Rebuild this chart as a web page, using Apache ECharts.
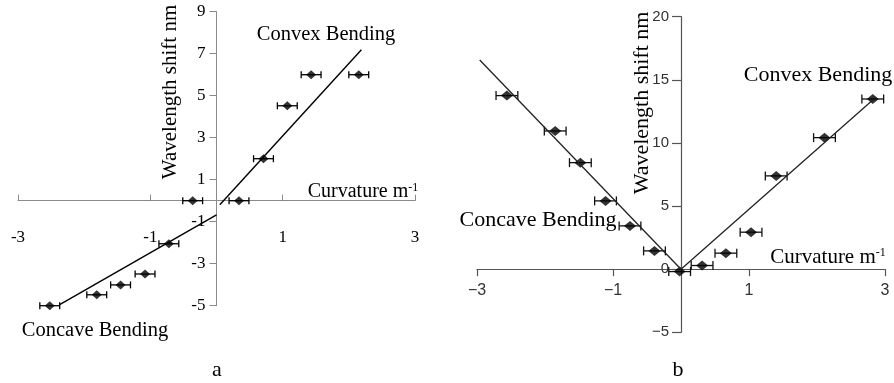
<!DOCTYPE html>
<html>
<head>
<meta charset="utf-8">
<script src="https://cdn.jsdelivr.net/npm/echarts@6/dist/echarts.min.js"></script>
<style>
html,body{margin:0;padding:0;background:#fff;}
#c{width:894px;height:383px;}
</style>
</head>
<body>
<div id="c"></div>
<script>
// ---- Panel a data ----
const aX = [-2.52, -1.81, -1.45, -1.08, -0.72, -0.36, 0.34, 0.71, 1.07, 1.43, 2.15];
const aY = [-5.0, -4.48, -4.01, -3.49, -2.05, 0, 0, 2.0, 4.52, 6.0, 6.0];
const aErr = [0.15, 0.15, 0.15, 0.15, 0.15, 0.15, 0.15, 0.15, 0.15, 0.15, 0.15];
const aFitConvex = [[0.05, -0.19], [2.19, 7.19]];
const aFitConcave = [[-2.37, -4.95], [0, -0.67]];
const aXTicks = {min: -3, max: 3, interval: 2};
const aYTicks = {min: -5, max: 9, interval: 2};

// ---- Panel b data ----
const bX = [-2.56, -1.85, -1.48, -1.11, -0.75, -0.39, -0.02, 0.31, 0.66, 1.03, 1.40, 2.11, 2.82];
const bY = [13.75, 10.95, 8.44, 5.41, 3.43, 1.45, -0.19, 0.29, 1.27, 2.93, 7.39, 10.42, 13.48];
const bErr = [0.16, 0.16, 0.16, 0.16, 0.16, 0.16, 0.16, 0.16, 0.16, 0.16, 0.16, 0.16, 0.16];
const bFitConcave = [[-2.96, 16.57], [0, 0]];
const bFitConvex = [[0, 0], [2.82, 13.4]];
const bXTicks = {min: -3, max: 3, interval: 2};
const bYTicks = {min: -5, max: 20, interval: 5};

const serif = '"Liberation Serif", "DejaVu Serif", serif';
const sans = '"Liberation Sans", Arial, sans-serif';

function pts(xs, ys) { return xs.map((x, i) => [x, ys[i]]); }
function errs(xs, ys, es) { return xs.map((x, i) => [x, ys[i], es[i]]); }

function errRender(capHalf, color) {
  return function (params, api) {
    const x = api.value(0), y = api.value(1), e = api.value(2);
    const l = api.coord([x - e, y]);
    const r = api.coord([x + e, y]);
    const st = {stroke: color, lineWidth: 1.3};
    return {
      type: 'group',
      children: [
        {type: 'line', shape: {x1: l[0], y1: l[1], x2: r[0], y2: r[1]}, style: st},
        {type: 'line', shape: {x1: l[0], y1: l[1] - capHalf, x2: l[0], y2: l[1] + capHalf}, style: st},
        {type: 'line', shape: {x1: r[0], y1: r[1] - capHalf, x2: r[0], y2: r[1] + capHalf}, style: st}
      ]
    };
  };
}

function fmtMinus(v) { return v < 0 ? '\u2212' + Math.abs(v) : String(v); }

const chart = echarts.init(document.getElementById('c'), null, {renderer: 'canvas'});

const option = {
  animation: false,
  backgroundColor: '#fff',
  grid: [
    {left: 18, right: 479, top: 11.7, bottom: 77.3, containLabel: false, outerBoundsMode: 'none'},
    {left: 477, right: 9, top: 16.7, bottom: 50.7, containLabel: false, outerBoundsMode: 'none'}
  ],
  xAxis: [
    {
      gridIndex: 0, type: 'value', position: 'bottom', min: aXTicks.min, max: aXTicks.max, interval: aXTicks.interval,
      splitLine: {show: false},
      axisLine: {onZero: false, lineStyle: {color: '#8a8a8a', width: 1}},
      axisTick: {show: true, inside: true, length: 6, lineStyle: {color: '#8a8a8a'}},
      axisLabel: {margin: 28, fontFamily: serif, fontSize: 17, color: '#000', showMinLabel: true, showMaxLabel: true, hideOverlap: false}
    },
    {
      gridIndex: 1, type: 'value', position: 'bottom', min: bXTicks.min, max: bXTicks.max, interval: bXTicks.interval,
      splitLine: {show: false},
      axisLine: {onZero: false, lineStyle: {color: '#555', width: 1.2}},
      axisTick: {show: true, inside: false, length: 7, lineStyle: {color: '#555', width: 1.2}},
      axisLabel: {margin: 13, fontFamily: sans, fontSize: 16, color: '#333', formatter: fmtMinus, showMinLabel: true, showMaxLabel: true, hideOverlap: false}
    }
  ],
  yAxis: [
    {
      gridIndex: 0, type: 'value', position: 'left', min: aYTicks.min, max: aYTicks.max, interval: aYTicks.interval,
      splitLine: {show: false},
      axisLine: {onZero: false, lineStyle: {color: '#8a8a8a', width: 1}},
      axisTick: {show: true, inside: false, length: 7, lineStyle: {color: '#8a8a8a'}},
      axisLabel: {margin: 11, fontFamily: serif, fontSize: 17, color: '#000', showMinLabel: true, showMaxLabel: true, hideOverlap: false}
    },
    {
      gridIndex: 1, type: 'value', position: 'left', min: bYTicks.min, max: bYTicks.max, interval: bYTicks.interval,
      splitLine: {show: false},
      axisLine: {onZero: false, lineStyle: {color: '#555', width: 1.2}},
      axisTick: {show: true, inside: false, length: 9, lineStyle: {color: '#555', width: 1.2}},
      axisLabel: {margin: 12, fontFamily: sans, fontSize: 15, color: '#333', formatter: fmtMinus, showMinLabel: true, showMaxLabel: true, hideOverlap: false}
    }
  ],
  series: [
    // panel a
    {type: 'line', xAxisIndex: 0, yAxisIndex: 0, data: aFitConvex, showSymbol: false, lineStyle: {color: '#000', width: 1.4}, silent: true},
    {type: 'line', xAxisIndex: 0, yAxisIndex: 0, data: aFitConcave, showSymbol: false, lineStyle: {color: '#000', width: 1.4}, silent: true},
    {type: 'custom', xAxisIndex: 0, yAxisIndex: 0, data: errs(aX, aY, aErr), renderItem: errRender(3.5, '#000'), encode: {x: 0, y: 1}},
    {type: 'scatter', xAxisIndex: 0, yAxisIndex: 0, data: pts(aX, aY), symbol: 'diamond', symbolSize: [10, 9], itemStyle: {color: '#000'}},
    // panel b
    {type: 'line', xAxisIndex: 1, yAxisIndex: 1, data: bFitConcave, showSymbol: false, lineStyle: {color: '#222', width: 1.3}, silent: true},
    {type: 'line', xAxisIndex: 1, yAxisIndex: 1, data: bFitConvex, showSymbol: false, lineStyle: {color: '#222', width: 1.3}, silent: true},
    {type: 'custom', xAxisIndex: 1, yAxisIndex: 1, data: errs(bX, bY, bErr), renderItem: errRender(4.5, '#111'), encode: {x: 0, y: 1}},
    {type: 'scatter', xAxisIndex: 1, yAxisIndex: 1, data: pts(bX, bY), symbol: 'diamond', symbolSize: [12, 10], itemStyle: {color: '#000'}}
  ],
  graphic: [
    {type: 'text', x: 326, y: 35, style: {text: 'Convex Bending', font: '20.5px ' + serif, fill: '#000', align: 'center', verticalAlign: 'middle'}},
    {type: 'text', x: 95, y: 331, style: {text: 'Concave Bending', font: '20.5px ' + serif, fill: '#000', align: 'center', verticalAlign: 'middle'}},
    {type: 'text', x: 363, y: 192, style: {text: 'Curvature m{sup|-1}', font: '20px ' + serif, fill: '#000', align: 'center', verticalAlign: 'middle',
      rich: {sup: {fontSize: 12, fontFamily: serif, verticalAlign: 'top', lineHeight: 12}}}},
    {type: 'text', x: 170, y: 92, rotation: Math.PI / 2, style: {text: 'Wavelength shift nm', font: '21px ' + serif, fill: '#000', align: 'center', verticalAlign: 'middle'}},
    {type: 'text', x: 217, y: 370, style: {text: 'a', font: '22px ' + serif, fill: '#000', align: 'center', verticalAlign: 'middle'}},

    {type: 'text', x: 818, y: 75, style: {text: 'Convex Bending', font: '22px ' + serif, fill: '#000', align: 'center', verticalAlign: 'middle'}},
    {type: 'text', x: 538, y: 220, style: {text: 'Concave Bending', font: '22px ' + serif, fill: '#000', align: 'center', verticalAlign: 'middle'}},
    {type: 'text', x: 828, y: 257, style: {text: 'Curvature m{sup|-1}', font: '21px ' + serif, fill: '#000', align: 'center', verticalAlign: 'middle',
      rich: {sup: {fontSize: 12, fontFamily: serif, verticalAlign: 'top', lineHeight: 12}}}},
    {type: 'text', x: 642, y: 103, rotation: Math.PI / 2, style: {text: 'Wavelength shift nm', font: '22px ' + serif, fill: '#000', align: 'center', verticalAlign: 'middle'}},
    {type: 'text', x: 678, y: 370, style: {text: 'b', font: '22px ' + serif, fill: '#000', align: 'center', verticalAlign: 'middle'}}
  ]
};
chart.setOption(option);

// Move each axis onto the other axis' zero, using the library's own scales.
function placeAxes() {
  const offsets = [0, 1].map(function (g) {
    const zero = chart.convertToPixel({gridIndex: g}, [0, 0]);
    const lowerLeft = chart.convertToPixel({gridIndex: g}, [g === 0 ? aXTicks.min : bXTicks.min, g === 0 ? aYTicks.min : bYTicks.min]);
    return {x: zero[1] - lowerLeft[1], y: lowerLeft[0] - zero[0]};
  });
  chart.setOption({
    xAxis: [{offset: offsets[0].x}, {offset: offsets[1].x}],
    yAxis: [{offset: offsets[0].y}, {offset: offsets[1].y}]
  });
}
placeAxes();
</script>
</body>
</html>
